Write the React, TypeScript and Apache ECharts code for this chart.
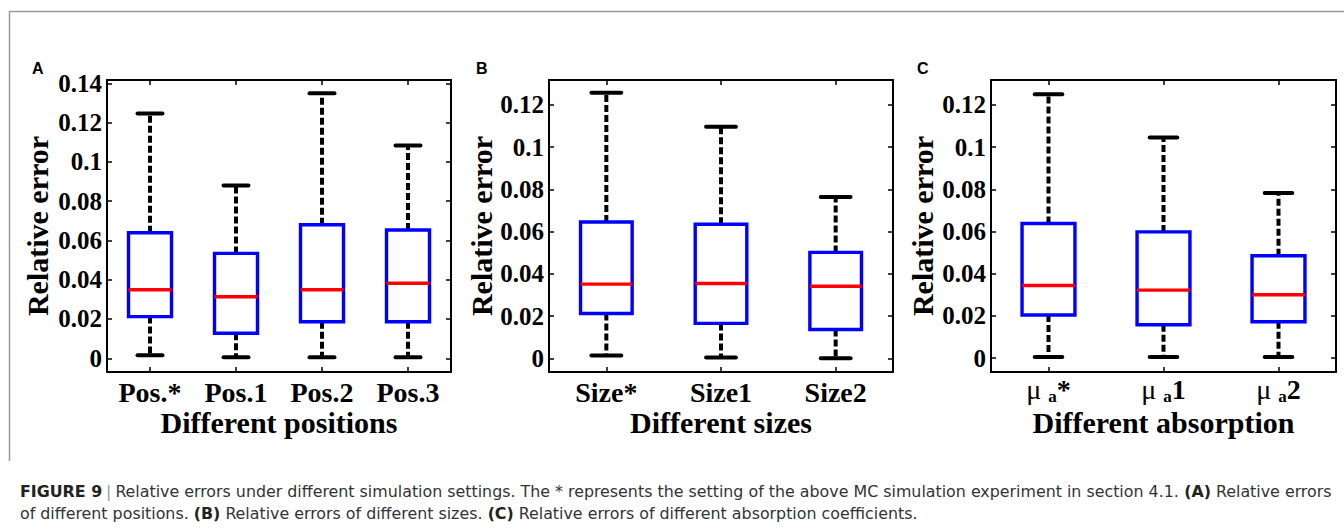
import React, { useEffect, useRef } from "react";
import * as echarts from "echarts";

// ---------- data ----------
const posCategories = ["Pos.*", "Pos.1", "Pos.2", "Pos.3"];
const posLow = [0.0015, 0.0005, 0.0005, 0.0005];
const posQ1 = [0.0212, 0.0127, 0.0186, 0.0186];
const posMedian = [0.0349, 0.0313, 0.0349, 0.0382];
const posQ3 = [0.0639, 0.0534, 0.068, 0.0653];
const posHigh = [0.1247, 0.088, 0.1349, 0.1084];

const sizeCategories = ["Size*", "Size1", "Size2"];
const sizeLow = [0.0014, 0.0005, 0.0001];
const sizeQ1 = [0.0213, 0.0166, 0.0137];
const sizeMedian = [0.0352, 0.0355, 0.0342];
const sizeQ3 = [0.0646, 0.0635, 0.0502];
const sizeHigh = [0.1258, 0.1097, 0.0764];

const absCategories = ["μa*", "μa1", "μa2"];
const absLow = [0.0005, 0.0005, 0.0005];
const absQ1 = [0.0204, 0.0158, 0.0172];
const absMedian = [0.0344, 0.0322, 0.03];
const absQ3 = [0.0638, 0.0598, 0.0485];
const absHigh = [0.125, 0.1045, 0.0782];

// y tick labels: top value and step
const posTickMax = 0.14;
const sizeTickMax = 0.12;
const absTickMax = 0.12;
const tickStep = 0.02;

const SERIF = "Liberation Serif";

function buildRows(low: number[], q1: number[], med: number[], q3: number[], high: number[]) {
  return low.map((_, i) => [i, low[i], q1[i], med[i], q3[i], high[i]]);
}

function makeRender(boxRatio: number, capRatio: number) {
  return (params: any, api: any) => {
    const x = api.value(0);
    const low = api.coord([x, api.value(1)]);
    const q1 = api.coord([x, api.value(2)]);
    const med = api.coord([x, api.value(3)]);
    const q3 = api.coord([x, api.value(4)]);
    const high = api.coord([x, api.value(5)]);
    const band = api.size([1, 0])[0];
    const bw = band * boxRatio;
    const cw = band * capRatio;
    const cx = low[0];
    const dash = { stroke: "#000", lineWidth: 4, lineDash: [7, 3], fill: null };
    const cap = { stroke: "#000", lineWidth: 4, lineCap: "round", fill: null };
    return {
      type: "group",
      children: [
        { type: "line", shape: { x1: cx, y1: q3[1], x2: cx, y2: high[1] }, style: dash },
        { type: "line", shape: { x1: cx, y1: q1[1], x2: cx, y2: low[1] }, style: dash },
        { type: "line", shape: { x1: cx - cw / 2, y1: high[1], x2: cx + cw / 2, y2: high[1] }, style: cap },
        { type: "line", shape: { x1: cx - cw / 2, y1: low[1], x2: cx + cw / 2, y2: low[1] }, style: cap },
        {
          type: "rect",
          shape: { x: cx - bw / 2, y: q3[1], width: bw, height: q1[1] - q3[1] },
          style: { fill: "#fff", stroke: "#0000ff", lineWidth: 3.4 },
        },
        {
          type: "line",
          shape: { x1: cx - bw / 2, y1: med[1], x2: cx + bw / 2, y2: med[1] },
          style: { stroke: "#ff0000", lineWidth: 3.4 },
        },
      ],
    };
  };
}

const yFmt = (v: number) => (Math.abs(v) < 1e-9 ? "0" : String(+v.toFixed(2)));

export default function App() {
  const ref = useRef<HTMLDivElement>(null);

  useEffect(() => {
    document.body.style.margin = "0";
    const chart = echarts.init(ref.current!, null, { renderer: "svg" });

    const TOP = 80;
    const H = 292;
    const panels = [
      {
        left: 107, width: 344, cats: posCategories, tickMax: posTickMax, min: -0.007, max: 0.1417,
        xName: "Different positions", yGap: 55, mu: false, box: 0.5, cap: 0.29,
        rows: buildRows(posLow, posQ1, posMedian, posQ3, posHigh),
      },
      {
        left: 549, width: 344, cats: sizeCategories, tickMax: sizeTickMax, min: -0.0064, max: 0.1318,
        xName: "Different sizes", yGap: 53, mu: false, box: 0.45, cap: 0.26,
        rows: buildRows(sizeLow, sizeQ1, sizeMedian, sizeQ3, sizeHigh),
      },
      {
        left: 991, width: 345, cats: absCategories, tickMax: absTickMax, min: -0.0066, max: 0.1318,
        xName: "Different absorption", yGap: 54, mu: true, box: 0.46, cap: 0.24,
        rows: buildRows(absLow, absQ1, absMedian, absQ3, absHigh),
      },
    ];

    const grid: any[] = [];
    const xAxis: any[] = [];
    const yAxis: any[] = [];
    const series: any[] = [];
    const axisLine = { show: true, onZero: false, lineStyle: { color: "#000", width: 2 } };
    const tickStyle = { color: "#000", width: 1.5 };

    panels.forEach((p, i) => {
      grid.push({ left: p.left, top: TOP, width: p.width, height: H });
      const labelBase: any = {
        color: "#000", fontFamily: SERIF, fontWeight: "bold", fontSize: 28, margin: 6, interval: 0,
      };
      if (p.mu) {
        labelBase.margin = 3;
        labelBase.formatter = (v: string) => `{mu|μ }{sub|a}{n|${v.slice(2)}}`;
        labelBase.rich = {
          mu: { fontFamily: SERIF, fontSize: 28, fontWeight: "normal", color: "#000", lineHeight: 30, verticalAlign: "top" },
          sub: { fontFamily: SERIF, fontSize: 17, fontWeight: "bold", color: "#000", lineHeight: 8, verticalAlign: "bottom" },
          n: { fontFamily: SERIF, fontSize: 28, fontWeight: "bold", color: "#000", lineHeight: 30, verticalAlign: "top" },
        };
      }
      xAxis.push({
        gridIndex: i, type: "category", data: p.cats, position: "bottom", boundaryGap: true,
        axisLine, splitLine: { show: false },
        axisTick: { show: true, inside: true, alignWithLabel: true, length: 5, lineStyle: tickStyle },
        axisLabel: labelBase,
        name: p.xName, nameLocation: "middle", nameGap: 35, nameMoveOverlap: false,
        nameTextStyle: { color: "#000", fontFamily: SERIF, fontWeight: "bold", fontSize: 30 },
      });
      xAxis.push({
        gridIndex: i, type: "category", data: p.cats, position: "top", boundaryGap: true,
        axisLine, splitLine: { show: false },
        axisTick: { show: true, inside: true, alignWithLabel: true, length: 5, lineStyle: tickStyle },
        axisLabel: { show: false },
      });
      yAxis.push({
        gridIndex: i, type: "value", position: "left", min: p.min, max: p.max,
        axisLine, splitLine: { show: false }, axisTick: { show: false }, axisLabel: { show: false },
        name: "Relative error", nameLocation: "middle", nameGap: p.yGap, nameMoveOverlap: false,
        nameTextStyle: { color: "#000", fontFamily: SERIF, fontWeight: "bold", fontSize: 30 },
      });
      yAxis.push({
        gridIndex: i, type: "value", position: "right", min: p.min, max: p.max,
        axisLine, splitLine: { show: false }, axisTick: { show: false }, axisLabel: { show: false },
      });
      series.push({
        type: "custom", xAxisIndex: 2 * i, yAxisIndex: 2 * i,
        renderItem: makeRender(p.box, p.cap),
        encode: { x: 0, y: [1, 2, 3, 4, 5] },
        data: p.rows, silent: true,
      });
    });

    // tick-label overlay grids: span exactly 0..tickMax of each panel's value range
    panels.forEach((p, i) => {
      const span = p.max - p.min;
      const top = TOP + ((p.max - p.tickMax) / span) * H;
      const height = (p.tickMax / span) * H;
      grid.push({ left: p.left, top, width: p.width, height });
      const gi = panels.length + i;
      xAxis.push({ gridIndex: gi, type: "value", show: false, min: 0, max: 1 });
      yAxis.push({
        gridIndex: gi, type: "value", position: "left", min: 0, max: p.tickMax, interval: tickStep,
        axisLine: { show: false }, splitLine: { show: false },
        axisTick: { show: true, inside: true, length: 5, lineStyle: tickStyle },
        axisLabel: { formatter: yFmt, color: "#000", fontFamily: SERIF, fontWeight: "bold", fontSize: 25, margin: 5 },
      });
      yAxis.push({
        gridIndex: gi, type: "value", position: "right", min: 0, max: p.tickMax, interval: tickStep,
        axisLine: { show: false }, splitLine: { show: false },
        axisTick: { show: true, inside: true, length: 5, lineStyle: tickStyle },
        axisLabel: { show: false },
      });
    });

    const capFont = "'Liberation Sans Narrow', 'DejaVu Sans Condensed', 'Liberation Sans', sans-serif";
    const capRich = {
      b: { fontFamily: capFont, fontSize: 15, fontWeight: "bold", fill: "#222" },
      r: { fontFamily: capFont, fontSize: 15, fontWeight: "normal", fill: "#333" },
      g: { fontFamily: capFont, fontSize: 15, fontWeight: "normal", fill: "#999" },
    };

    const graphic: any[] = [
      {
        type: "polyline", silent: true,
        shape: { points: [[9.5, 461], [9.5, 11.5], [1344, 11.5]] },
        style: { stroke: "#9a9a9a", lineWidth: 1.5, fill: null },
      },
      ...[["A", 32], ["B", 476], ["C", 917]].map(([t, x]) => ({
        type: "text", left: x as number, top: 60,
        style: { text: t, font: "bold 16px 'Liberation Sans', Arial, sans-serif", fill: "#000" },
      })),
      {
        type: "text", x: 20, y: 492, scaleX: 1.175,
        style: {
          text: "{b|FIGURE 9} {g||} {r|Relative errors under different simulation settings. The * represents the setting of the above MC simulation experiment in section 4.1. }{b|(A)}{r| Relative errors}",
          rich: capRich, verticalAlign: "middle",
        },
      },
      {
        type: "text", x: 20, y: 514, scaleX: 1.175,
        style: {
          text: "{r|of different positions. }{b|(B)}{r| Relative errors of different sizes. }{b|(C)}{r| Relative errors of different absorption coefficients.}",
          rich: capRich, verticalAlign: "middle",
        },
      },
    ];

    chart.setOption({
      animation: false,
      backgroundColor: "#fff",
      textStyle: { fontFamily: SERIF },
      grid, xAxis, yAxis, series, graphic,
    });

    return () => chart.dispose();
  }, []);

  return <div ref={ref} style={{ width: 1344, height: 529 }} />;
}
